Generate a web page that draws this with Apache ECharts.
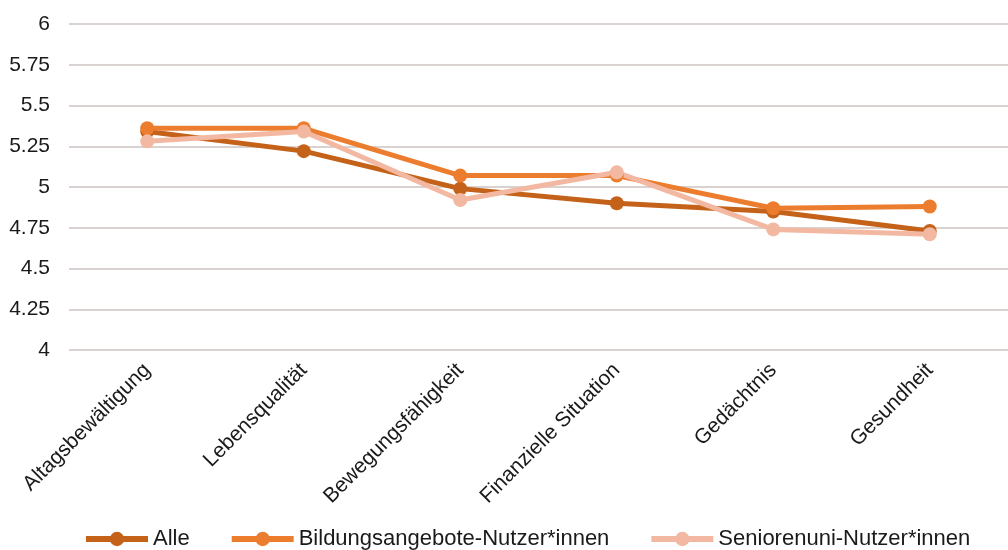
<!DOCTYPE html>
<html>
<head>
<meta charset="utf-8">
<script src="https://cdn.jsdelivr.net/npm/echarts@6/dist/echarts.min.js"></script>
<style>
html, body { margin: 0; padding: 0; background: #fff; }
#chart { width: 1008px; height: 550px; }
</style>
</head>
<body>
<div id="chart"></div>
<script>
// Kategorien und Mittelwerte
var categories = ['Altagsbewältigung', 'Lebensqualität', 'Bewegungsfähigkeit', 'Finanzielle Situation', 'Gedächtnis', 'Gesundheit']
var alle = [5.34, 5.22, 4.99, 4.90, 4.85, 4.73]
var bildung = [5.36, 5.36, 5.07, 5.07, 4.87, 4.88]
var senioren = [5.28, 5.34, 4.92, 5.09, 4.74, 4.71]
var seriesNames = ['Alle', 'Bildungsangebote-Nutzer*innen', 'Seniorenuni-Nutzer*innen']

var fontName = '"Liberation Sans", Arial, sans-serif'
var colors = ['#c5621a', '#ed7d2e', '#f3b8a1']

function lineSeries (name, data, color) {
  return {
    name: name,
    type: 'line',
    data: data,
    symbol: 'circle',
    symbolSize: 14,
    lineStyle: { width: 5, color: color },
    itemStyle: { color: color },
    emphasis: { disabled: true }
  }
}

var chart = echarts.init(document.getElementById('chart'))
chart.setOption({
  animation: false,
  color: colors,
  textStyle: { fontFamily: fontName },
  grid: { left: 69, width: 948, top: 24, bottom: 200 },
  legend: {
    left: 78,
    top: 523,
    itemWidth: 62,
    itemHeight: 18,
    itemGap: 39,
    lineStyle: { width: 6 },
    textStyle: { fontSize: 22, color: '#1a1a1a', fontFamily: fontName },
    data: seriesNames
  },
  xAxis: {
    type: 'category',
    data: categories,
    boundaryGap: true,
    axisLine: { show: false },
    axisTick: { show: false },
    axisLabel: {
      interval: 0,
      rotate: 45,
      margin: 17,
      fontSize: 21,
      color: '#1a1a1a',
      fontFamily: fontName
    }
  },
  yAxis: {
    type: 'value',
    min: 4,
    max: 6,
    interval: 0.25,
    axisLine: { show: false },
    axisTick: { show: false },
    axisLabel: { fontSize: 21, color: '#1a1a1a', margin: 19, fontFamily: fontName },
    splitLine: { lineStyle: { color: '#d9d2d1', width: 2 } }
  },
  series: [
    lineSeries(seriesNames[0], alle, colors[0]),
    lineSeries(seriesNames[1], bildung, colors[1]),
    lineSeries(seriesNames[2], senioren, colors[2])
  ]
})
</script>
</body>
</html>
